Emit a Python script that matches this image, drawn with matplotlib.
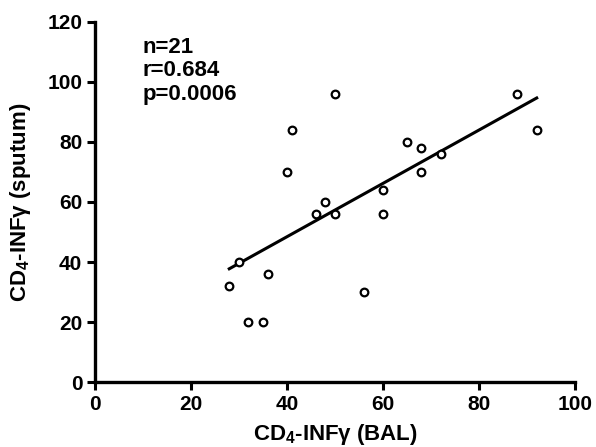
import numpy as np
import matplotlib
matplotlib.use("Agg")
import matplotlib.pyplot as plt

plt.rcParams['font.family'] = ['Liberation Sans', 'DejaVu Sans']
plt.rcParams['font.weight'] = 'bold'
plt.rcParams['mathtext.fontset'] = 'custom'
plt.rcParams['mathtext.rm'] = 'Liberation Sans:bold'
plt.rcParams['mathtext.bf'] = 'Liberation Sans:bold'

# CD4-INFγ valores
bal = [28, 30, 32, 35, 36, 40, 41, 46, 48, 50, 50, 56, 60, 60, 65, 68, 68, 72, 88, 92]
sputum = [32, 40, 20, 20, 36, 70, 84, 56, 60, 96, 56, 30, 64, 56, 80, 78, 70, 76, 96, 84]
stats_txt = ["n=21", "r=0.684", "p=0.0006"]

x = np.array(bal)
y = np.array(sputum)
m, b = np.polyfit(x, y, 1)
xl = np.array([x.min(), x.max()])

fig = plt.figure(figsize=(5.96, 4.47), dpi=100)
ax = fig.add_axes([0.159, 0.1454, 0.806, 0.8054])

ax.plot(x, y, 'o', mfc='white', mec='black', ms=5.5, mew=1.6, zorder=3)
ax.plot(xl, m * xl + b, color='black', lw=2.2)

ax.set_xlim(0, 100)
ax.set_ylim(0, 120)
ax.set_xticks([0, 20, 40, 60, 80, 100])
ax.set_yticks([0, 20, 40, 60, 80, 100, 120])

for s in ['top', 'right']:
    ax.spines[s].set_visible(False)
for s in ['left', 'bottom']:
    ax.spines[s].set_linewidth(2.4)
ax.tick_params(width=2.2, length=6, labelsize=15, pad=3)
for lab in ax.get_xticklabels() + ax.get_yticklabels():
    lab.set_fontweight('bold')

ax.set_xlabel(r"CD$_\mathbf{4}$-INFγ (BAL)", fontsize=16, fontweight='bold', labelpad=6)
ax.set_ylabel(r"CD$_\mathbf{4}$-INFγ (sputum)", fontsize=16, fontweight='bold', labelpad=10)

for i, t in enumerate(stats_txt):
    ax.text(10, 109.7 - 7.8 * i, t, fontsize=16, fontweight='bold', va='baseline')

fig.savefig("out.png", dpi=100)
